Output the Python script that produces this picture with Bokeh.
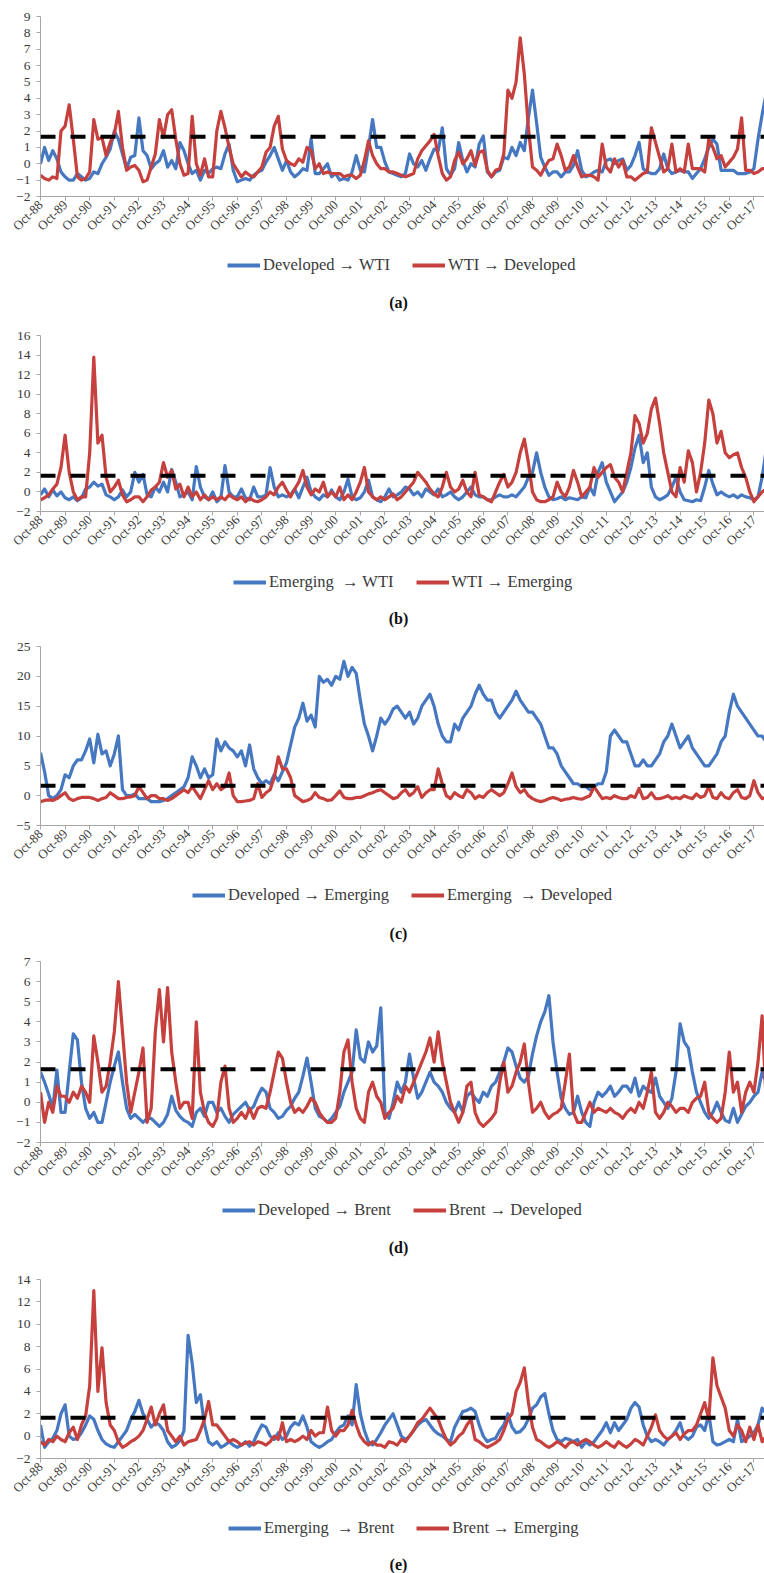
import math
import numpy as np
import pandas as pd
from bokeh.plotting import figure
from bokeh.layouts import column
from bokeh.models import FixedTicker, Span, Legend, LegendItem, Label
from bokeh.embed import file_html
from bokeh.resources import INLINE

# ---------------- data ----------------
DATES = pd.date_range("1988-10-01", periods=178, freq="2MS")
TICK_LABELS = ["Oct-88", "Oct-89", "Oct-90", "Oct-91", "Oct-92", "Oct-93", "Oct-94", "Oct-95",
               "Oct-96", "Oct-97", "Oct-98", "Oct-99", "Oct-00", "Oct-01", "Oct-02", "Oct-03",
               "Oct-04", "Oct-05", "Oct-06", "Oct-07", "Oct-08", "Oct-09", "Oct-10", "Oct-11",
               "Oct-12", "Oct-13", "Oct-14", "Oct-15", "Oct-16", "Oct-17"]
THRESHOLD = 1.645

A_BLUE = [0.0, 1.0, 0.2, 0.8, 0.3, -0.5, -0.8, -1.0, -1.0, -0.6, -0.8, -1.0,
          -0.9, -0.5, -0.6, 0.0, 0.4, 0.9, 2.0, 1.5, 0.6, -0.3, 0.4, 0.5,
          2.8, 0.8, 0.5, -0.3, 0.0, 0.2, 0.8, -0.2, 0.2, -0.3, 1.3, 0.8,
          0.0, -0.6, -0.4, -1.0, -0.4, -0.6, -0.3, -0.2, -0.3, 0.6, 1.2, -0.4,
          -1.1, -1.0, -0.9, -1.0, -0.7, -0.5, -0.4, 0.1, 0.5, 1.0, 0.3, -0.4,
          0.2, -0.5, -0.8, -0.6, -0.3, -0.4, 1.5, -0.6, -0.6, -0.3, 0.0, -0.8,
          -0.6, -1.0, -0.9, -1.0, -0.5, 0.5, -0.4, -0.5, 1.0, 2.7, 1.0, 1.0,
          0.1, -0.5, -0.6, -0.7, -0.8, -0.6, 0.6, 0.0, -0.2, 0.2, -0.4, 0.3,
          0.9, 0.8, 2.2, -0.3, -0.7, -0.3, 1.3, 0.2, -0.5, 0.0, -0.2, 1.2,
          1.7, -0.5, -0.8, -0.5, -0.4, 0.4, 0.3, 1.0, 0.5, 1.3, 0.8, 2.8,
          4.5, 2.5, 0.4, -0.2, -0.7, -0.5, -0.5, -0.8, -0.5, -0.5, -0.1, 0.8,
          -0.4, -0.8, -0.7, -0.5, -0.4, -0.5, 0.2, 0.3, 0.0, 0.2, 0.3, -0.4,
          -0.1, 0.5, 1.3, -0.3, -0.5, -0.6, -0.6, -0.3, 0.6, -0.3, -0.6, -0.5,
          -0.4, -0.5, -0.5, -0.9, -0.6, -0.3, 0.3, 1.0, 1.5, 1.2, -0.4, -0.4,
          -0.4, -0.4, -0.6, -0.6, -0.6, -0.5, -0.3, 1.5, 3.0, 4.3]
A_RED = [-0.7, -0.9, -1.0, -0.8, -0.9, 2.0, 2.3, 3.6, 1.5, -0.8, -1.0, -0.9,
         -0.5, 2.7, 1.5, 1.6, 0.5, 1.3, 1.8, 3.2, 1.0, -0.4, -0.2, -0.1,
         -0.4, -1.1, -1.0, -0.2, 0.6, 2.7, 1.6, 3.0, 3.3, 1.5, 0.0, -0.7,
         -0.6, 2.9, 0.0, -0.7, 0.3, -0.8, -0.8, 2.0, 3.2, 2.2, 1.0, 0.0,
         -0.4, -0.8, -0.5, -0.7, -0.8, -0.5, -0.2, 0.7, 1.0, 2.3, 2.9, 0.9,
         0.2, 0.0, -0.1, 0.3, 0.1, 1.0, 0.8, -0.3, 0.0, -0.6, -0.5, -0.6,
         -0.6, -0.6, -0.8, -0.7, -0.7, -0.9, -0.7, 0.2, 1.4, 0.5, 0.0, -0.3,
         -0.3, -0.5, -0.5, -0.6, -0.7, -0.8, -0.7, -0.6, 0.3, 0.8, 1.1, 1.4,
         1.8, 0.5, -0.6, -1.0, -0.8, 0.2, 0.7, 0.0, 0.3, 0.8, -0.1, 0.7,
         0.8, -0.4, -0.8, -0.4, -0.3, 0.6, 4.5, 4.0, 5.0, 7.7, 5.5, 2.2,
         -0.2, -0.4, -0.7, -0.2, 0.2, 0.3, 1.2, 0.5, -0.4, -0.2, 0.5, -0.2,
         -0.8, -0.7, -0.7, -0.8, -1.0, 1.2, -0.2, -0.5, 0.3, -0.2, 0.2, -0.8,
         -0.8, -1.0, -0.8, -0.6, -0.5, 2.2, 1.3, 0.4, -0.5, -0.3, 1.2, -0.5,
         -0.3, -0.5, 1.2, -0.3, -0.3, -0.3, -0.5, 1.5, 1.0, 0.3, 0.5, -0.2,
         0.1, 0.4, 0.9, 2.8, -0.4, -0.4, -0.6, -0.5, -0.3, -0.3]

B_BLUE = [-0.3, 0.3, -0.5, 0.2, -0.4, 0.0, -0.6, -0.8, -0.5, -0.9, -0.6, 0.3,
          0.5, 1.0, 0.6, 0.8, -0.3, -0.5, -0.8, -0.5, 0.2, -0.5, 0.0, 2.0,
          1.0, 1.8, -0.3, -0.5, 0.5, 0.0, 1.0, 0.0, 2.3, 1.0, -0.5, -0.3,
          0.0, -0.8, 2.6, 0.5, -0.5, -0.8, 0.0, -1.0, -0.6, 2.7, 0.0, -0.5,
          -0.5, 0.3, -0.6, -0.8, 0.5, -0.5, -0.5, -0.3, 2.5, 0.5, -0.5, -0.3,
          -0.5, -0.3, 0.3, -0.6, 0.5, 1.5, 0.0, -0.5, -0.8, -0.3, -0.5, 0.2,
          -0.5, -0.8, 0.0, 1.3, -0.5, -0.8, -0.6, 0.0, 1.2, -0.5, -0.8, -1.0,
          -0.5, 0.3, -0.5, -0.3, 0.0, 0.5, 0.3, -0.3, 0.0, -0.5, 0.3, 0.0,
          -0.3, 0.3, -0.5, -0.3, 0.0, -0.5, -0.8, -0.5, 0.0, 0.5, -0.3, -0.5,
          -0.5, -0.8, -0.8, -0.5, -0.3, -0.5, -0.5, -0.3, -0.5, 0.0, 0.5, 1.5,
          2.0, 4.0, 2.0, 0.5, -0.5, -0.8, -0.7, -0.5, -0.8, -0.6, -0.7, -0.8,
          -0.5, -0.6, 0.5, -0.3, 2.0, 3.0, 1.0, 0.0, -1.0, -0.5, 0.0, 1.0,
          2.5, 4.5, 5.8, 3.0, 4.0, 0.5, -0.5, -0.8, -0.6, -0.3, 0.5, 1.5,
          0.0, -0.8, -0.9, -1.0, -0.8, -0.9, 0.5, 2.2, 0.8, -0.3, 0.0, -0.3,
          -0.5, -0.3, -0.6, -0.3, -0.5, -0.6, -0.8, -0.5, 1.5, 4.3]
B_RED = [-0.8, -0.6, -0.3, 0.3, 0.8, 2.5, 5.8, 2.0, 0.0, -0.8, -0.5, -0.5,
         4.0, 13.8, 5.0, 5.8, 1.5, 0.0, 0.5, 1.2, -0.3, -1.0, -0.8, -0.5,
         -0.5, -1.0, -0.5, 0.2, 0.5, 1.0, 3.0, 1.5, 2.2, 0.3, 0.8, -0.5,
         0.5, -0.5, 0.0, -0.8, -0.3, -0.8, -0.5, -0.8, -0.5, -0.8, -0.3, -0.6,
         -0.8, -0.5, -1.0, -0.6, -0.9, -1.0, -0.8, -0.5, 0.0, -0.3, 0.5, 1.0,
         0.2, -0.5, 0.3, 1.0, 2.2, 0.5, -0.3, 0.3, 0.0, 1.0, -0.5, 0.0,
         -0.5, 0.5, -0.8, -0.3, -0.8, 0.0, 1.0, 2.5, 0.0, -0.5, -0.8, -0.5,
         -0.8, -0.5, -0.2, -0.8, -0.5, 0.0, 0.5, 1.0, 2.0, 1.5, 1.0, 0.3,
         -0.2, -0.5, 0.5, 2.0, 0.5, 0.0, 0.3, 1.2, 0.0, -0.5, 2.0, -0.3,
         -0.5, -0.8, -1.0, 0.0, 1.0, 1.8, 0.5, 1.0, 2.0, 4.0, 5.4, 3.0,
         0.0, -0.8, -1.0, -1.0, -0.8, -0.5, 1.0, 0.0, -0.5, 0.5, 2.2, 1.0,
         -0.5, 0.0, 0.5, 2.5, 1.5, 2.0, 2.5, 2.8, 1.5, 1.0, 0.0, 2.0,
         4.0, 7.8, 7.0, 5.0, 6.0, 8.5, 9.6, 7.0, 4.0, 2.0, 0.0, -0.5,
         2.5, 1.0, 4.2, 3.0, 0.0, 2.0, 5.0, 9.4, 8.0, 5.0, 6.2, 4.0,
         3.5, 3.8, 4.0, 2.5, 1.5, 0.0, -1.0, -0.5, 0.0, 0.3]

C_BLUE = [7.2, 4.0, 0.0, -0.5, 0.0, 1.0, 3.5, 3.0, 5.0, 6.0, 6.0, 7.5,
          9.5, 5.5, 10.3, 7.0, 7.5, 5.0, 7.0, 10.0, 1.0, 0.0, 0.0, 0.3,
          -0.5, -0.5, -0.5, -1.0, -1.0, -1.0, -0.8, -0.5, 0.0, 0.5, 1.0, 1.5,
          3.0, 6.5, 5.0, 3.0, 4.5, 3.0, 3.5, 9.5, 7.5, 9.0, 8.0, 7.5,
          6.5, 7.5, 5.0, 8.5, 4.5, 3.0, 2.0, 2.5, 2.0, 3.5, 2.5, 4.0,
          5.5, 8.5, 11.5, 13.0, 15.5, 12.5, 13.5, 11.5, 20.0, 19.0, 19.5, 18.5,
          20.0, 19.5, 22.5, 20.0, 21.5, 20.5, 16.0, 12.0, 10.0, 7.5, 10.0, 13.0,
          12.0, 13.0, 14.5, 15.0, 14.0, 13.0, 14.0, 12.0, 13.0, 15.0, 16.0, 17.0,
          15.0, 12.0, 10.0, 9.0, 9.0, 12.0, 11.0, 13.0, 14.0, 15.0, 17.0, 18.5,
          17.0, 16.0, 16.0, 14.0, 13.0, 14.0, 15.0, 16.0, 17.5, 16.0, 15.0, 14.0,
          14.0, 13.0, 12.0, 10.0, 8.0, 8.0, 7.0, 5.0, 4.0, 3.0, 2.0, 2.0,
          1.5, 1.5, 1.0, 1.5, 2.0, 2.0, 4.0, 10.0, 11.0, 10.0, 9.0, 9.0,
          7.0, 5.0, 5.0, 6.0, 5.0, 5.0, 6.0, 7.0, 9.0, 10.0, 12.0, 10.0,
          8.0, 9.0, 10.0, 8.0, 7.0, 6.0, 5.0, 5.0, 6.0, 7.0, 9.0, 10.0,
          14.0, 17.0, 15.0, 14.0, 13.0, 12.0, 11.0, 10.0, 10.0, 9.0]
C_RED = [-1.0, -0.8, -0.7, -0.8, -0.5, 0.0, 0.5, -0.5, -0.8, -0.5, -0.3, -0.3,
         -0.3, -0.5, -0.8, -0.5, -0.3, 0.5, 0.0, -0.5, -0.5, -0.3, -0.2, 0.0,
         1.5, 0.5, -0.5, 0.0, 0.0, -0.5, -0.5, -0.8, -0.5, 0.0, 0.5, 1.0,
         0.5, 1.5, 0.5, -0.5, 1.0, 2.5, 1.0, 2.0, 1.0, 1.5, 3.8, 0.0,
         -1.0, -1.0, -0.9, -0.8, -0.5, 2.0, -0.3, 0.5, 1.0, 3.0, 6.5, 4.5,
         4.5, 3.0, 0.0, -0.5, -1.0, -0.8, -0.5, 0.5, -0.3, -0.5, -0.8, -0.7,
         0.0, 0.8, -0.3, -0.5, -0.5, -0.3, -0.3, 0.0, 0.3, 0.5, 0.8, 1.0,
         0.5, 0.0, -0.5, -0.3, 0.5, 1.0, 0.0, 0.5, 1.5, -0.3, 0.5, 1.0,
         1.0, 4.5, 2.0, 0.0, -0.5, 0.5, 0.0, -0.3, 1.0, 0.5, -0.5, 0.0,
         -0.3, 0.5, 1.0, 0.5, 0.0, 0.5, 2.0, 3.8, 1.5, 0.5, 1.0, 0.0,
         -0.5, -0.8, -1.0, -0.8, -0.5, -0.3, -0.5, -0.8, -0.6, -0.5, -0.3, -0.5,
         -0.6, -0.3, 0.0, 1.5, 0.5, -0.5, -0.3, -0.5, 0.0, -0.3, -0.5, -0.5,
         0.0, -0.3, 1.2, -0.5, -0.3, 0.5, -0.5, -0.5, -0.3, 0.0, -0.5, -0.3,
         -0.5, 0.0, -0.3, -0.5, 0.3, -0.3, 0.0, 1.5, -0.3, -0.5, 0.5, -0.3,
         -0.5, 0.5, 1.0, -0.3, -0.5, 0.0, 2.5, 0.5, -0.5, -0.3]

D_BLUE = [1.5, 1.0, 0.4, -0.3, 1.6, -0.5, -0.5, 1.5, 3.4, 3.1, 1.0, -0.3,
          -0.8, -0.5, -1.0, -1.0, 0.0, 1.0, 1.8, 2.5, 1.0, -0.3, -0.8, -0.6,
          -0.8, -1.0, -0.8, -0.8, -1.0, -1.2, -1.0, -0.6, 0.3, -0.4, -0.7, -0.9,
          -1.0, -1.2, -0.5, -0.3, -0.7, 0.0, 0.0, -0.5, -0.3, -0.7, -1.0, -0.6,
          -0.4, -0.2, 0.0, -0.4, -0.2, 0.3, 0.7, 0.5, -0.3, -0.5, -0.8, -0.7,
          -0.4, -0.2, 0.2, 0.5, 1.3, 2.2, 1.0, -0.3, -0.7, -0.8, -1.0, -0.8,
          -0.5, -0.2, 0.5, 1.0, 1.5, 3.6, 2.2, 2.0, 3.0, 2.5, 2.8, 4.7,
          -0.5, -0.8, 0.0, 1.0, 0.5, 1.0, 2.4, 1.2, 0.2, 0.5, 1.0, 1.5,
          1.0, 0.8, 0.5, 0.0, -0.3, -0.5, 0.0, -0.5, 0.3, 0.5, 0.2, 0.0,
          0.5, 0.3, 0.8, 1.0, 1.5, 2.0, 2.7, 2.5, 1.8, 1.2, 1.0, 1.3,
          2.4, 3.3, 4.0, 4.5, 5.3, 3.0, 1.5, 0.2, -0.3, -0.6, -0.5, 0.3,
          -0.5, -1.0, -1.2, 0.0, 0.5, 0.3, 0.5, 0.8, 0.3, 0.5, 0.8, 0.8,
          0.5, 1.2, 0.3, 0.8, 0.6, 0.5, 1.2, 0.3, 0.0, -0.3, 0.2, 1.5,
          3.9, 3.0, 2.7, 1.5, 0.5, 0.0, -0.5, -0.8, -0.5, 0.0, -0.5, -0.9,
          -1.0, -0.3, -1.0, -0.6, -0.2, 0.0, 0.3, 0.5, 1.5, 1.0]
D_RED = [0.5, -1.0, 0.0, -0.5, 0.8, 0.3, 0.3, 0.0, 0.5, 0.2, 0.8, 0.5,
         0.0, 3.3, 2.0, 0.5, 0.8, 2.0, 3.5, 6.0, 3.5, 1.0, -0.5, 0.5,
         1.5, 2.7, -1.0, -0.3, 3.5, 5.6, 3.0, 5.7, 2.5, 1.0, -0.3, 0.0,
         0.0, -0.8, 4.0, 0.5, -0.5, -1.0, -1.2, -0.8, 1.0, 1.8, -0.3, -1.0,
         -0.8, -0.5, -0.8, -0.3, -0.8, -0.3, -0.2, -0.3, 0.5, 1.5, 2.5, 2.2,
         1.0, 0.0, -0.5, -0.3, -0.5, -0.2, 0.2, 0.0, -0.5, -0.8, -1.0, -1.0,
         -0.8, 0.5, 2.5, 3.1, 1.0, -0.3, -0.8, -1.0, 0.5, 1.0, 0.3, 0.0,
         -0.8, -0.5, -0.3, 0.3, 0.0, 0.8, 0.5, 1.0, 1.5, 2.0, 2.5, 3.2,
         2.0, 3.5, 2.0, 1.0, 0.0, -0.5, -1.0, -0.5, 0.8, 1.0, -0.5, -1.0,
         -1.2, -1.0, -0.8, -0.5, 1.0, 2.0, 0.5, 0.8, 1.5, 2.0, 2.9, 1.0,
         -0.5, -0.3, 0.0, -0.5, -0.8, -0.6, -0.5, -0.3, 1.0, 2.4, -0.5, -1.0,
         -1.0, -0.5, 0.0, -0.5, -0.3, -0.4, -0.5, -0.3, -0.5, -0.6, -0.8, -0.5,
         -0.3, -0.5, 0.0, -0.3, 0.5, 1.5, -0.5, -0.8, -0.5, 0.0, -0.2, -0.5,
         -0.3, -0.3, -0.5, 0.0, 0.2, 0.3, 1.0, -0.5, -0.8, -1.0, -0.8, 0.5,
         2.5, 0.5, 1.0, -0.5, 0.5, 1.0, 0.5, 2.0, 4.3, 0.0]

E_BLUE = [1.0, -1.0, -0.5, -0.2, 0.5, 2.0, 2.8, 0.0, -0.3, -0.2, 0.3, 1.0,
          1.8, 1.5, 0.5, -0.3, -0.7, -0.9, -1.0, -0.5, 0.0, 0.5, 1.5, 2.2,
          3.2, 2.0, 1.5, 0.8, 1.2, 1.0, 0.5, -0.5, -1.0, -0.8, -0.4, 0.5,
          9.0, 6.5, 3.0, 3.7, 1.0, -0.5, -0.8, -0.5, -1.0, -0.8, -0.5, -0.8,
          -1.0, -0.8, -0.5, -0.9, -0.5, 0.3, 1.0, 0.8, 0.0, -0.3, 0.3, -0.3,
          0.0, 0.8, 1.2, 1.0, 1.8, 0.8, -0.5, -0.8, -1.0, -0.8, -0.5, -0.3,
          0.3, 0.8, 1.0, 1.8, 1.0, 4.6, 2.0, 0.5, -0.5, -0.8, -0.3, 0.3,
          1.0, 1.5, 2.0, 1.0, 0.0, -0.3, 0.0, 0.5, 1.0, 1.3, 1.5, 1.0,
          0.5, 0.2, 0.0, -0.3, -0.5, 0.8, 1.5, 2.2, 2.3, 2.5, 2.2, 1.0,
          0.0, -0.5, -0.3, -0.2, 0.5, 1.0, 2.0, 0.8, 0.3, 0.4, 0.8, 1.5,
          2.5, 2.8, 3.5, 3.8, 2.0, 0.5, -0.3, -0.5, -0.2, -0.3, -0.5, -0.3,
          -1.0, -0.5, -0.8, -0.5, 0.0, 0.5, 1.2, 0.3, 1.2, 0.5, 1.0, 1.5,
          2.5, 3.0, 2.6, 1.0, 0.0, -0.5, -0.3, -0.5, -0.8, -0.3, 0.0, 0.5,
          1.2, 0.0, -0.3, 0.0, 0.8, 1.0, 0.5, 2.0, -0.5, -0.8, -0.7, -0.5,
          -0.3, -0.5, 1.5, -0.5, -0.3, 0.0, 0.3, 1.0, 2.5, 2.0]
E_RED = [-0.5, -0.8, -0.3, -0.5, 0.0, -0.3, -0.5, 0.3, 0.8, -0.3, 1.0, 1.8,
         4.5, 13.0, 4.0, 7.9, 3.0, 1.0, 0.5, -0.5, -1.0, -0.8, -0.5, -0.3,
         0.0, 0.5, 1.5, 2.6, 1.0, 2.0, 2.8, 0.5, 0.0, -0.5, 0.0, -0.8,
         -0.5, -0.4, -0.3, 0.5, 1.5, 3.1, 1.0, 1.0, 0.5, 0.0, -0.5, -0.3,
         -0.5, -0.8, -0.6, -0.5, -0.8, -0.5, -0.6, -0.8, -0.5, 0.0, -0.3, 1.2,
         -0.5, -0.3, -0.5, -0.3, 0.0, -0.3, 0.5, 0.0, 0.3, 0.3, 2.6, 0.5,
         0.0, 0.5, 0.5, 1.0, 2.3, 1.0, 0.0, -0.5, -0.8, -0.5, -0.8, -0.8,
         -1.0, -0.5, -0.6, -0.8, -0.3, -0.5, 0.0, 0.5, 1.2, 1.5, 2.0, 2.5,
         2.0, 1.5, 0.5, -0.3, -0.8, -0.5, 0.0, 0.3, 1.0, 1.5, -0.3, -0.5,
         -0.8, -1.0, -0.8, -0.6, -0.3, 0.5, 1.5, 2.0, 4.0, 4.8, 6.1, 3.0,
         0.8, -0.3, -0.5, -0.8, -1.0, -0.8, -0.5, -0.7, -1.0, -0.6, -0.5, -0.8,
         -0.5, -0.3, -0.5, -0.8, -1.0, -0.8, -0.5, -0.8, -1.0, -0.5, -0.8, -1.0,
         -0.7, -0.3, -0.5, -0.8, 0.0, 0.8, 1.9, 0.5, 0.0, -0.3, 0.0, 0.3,
         -0.3, 0.2, 0.5, 0.5, 1.0, 2.0, 3.0, 1.5, 7.0, 4.5, 3.5, 2.5,
         0.5, 0.0, 1.0, 0.5, -0.5, 0.8, -0.3, 1.0, -0.5, 0.0]

Y_TICKS_A = [-2, -1, 0, 1, 2, 3, 4, 5, 6, 7, 8, 9]
Y_TICKS_B = [-2, 0, 2, 4, 6, 8, 10, 12, 14, 16]
Y_TICKS_C = [-5, 0, 5, 10, 15, 20, 25]
Y_TICKS_D = [-2, -1, 0, 1, 2, 3, 4, 5, 6, 7]
Y_TICKS_E = [-2, 0, 2, 4, 6, 8, 10, 12, 14]

LEGEND_A = ["Developed \u2192 WTI", "WTI \u2192 Developed"]
LEGEND_B = ["Emerging  \u2192 WTI", "WTI \u2192 Emerging"]
LEGEND_C = ["Developed \u2192 Emerging", "Emerging  \u2192 Developed"]
LEGEND_D = ["Developed \u2192 Brent", "Brent \u2192 Developed"]
LEGEND_E = ["Emerging  \u2192 Brent", "Brent \u2192 Emerging"]
CAPTIONS = ["(a)", "(b)", "(c)", "(d)", "(e)"]

# ---------------- styling / layout ----------------
BLUE = "#4678c2"
RED = "#c6413e"
AXIS_GRAY = "#a6a6a6"
TEXT = "#3a3a3a"
SERIF = "Liberation Serif"
W = 764
LEFT = 40
LINE_W = 3.2
MONTHS = np.asarray((DATES.year - 1988) * 12 + DATES.month - 10, dtype=float)
X_END = (W - LEFT) / 24.6 * 12.0   # months visible in the frame

panels = [
    # blue, red, yticks, legend, caption,
    # border top, frame height, footer height, legend left (page x), legend centre, caption centre (from footer top)
    (A_BLUE, A_RED, Y_TICKS_A, LEGEND_A, CAPTIONS[0], 16, 180, 83, 227, 21, 60),
    (B_BLUE, B_RED, Y_TICKS_B, LEGEND_B, CAPTIONS[1], 10, 176, 80, 233, 23, 61),
    (C_BLUE, C_RED, Y_TICKS_C, LEGEND_C, CAPTIONS[2], 9, 179, 80, 192, 22, 62),
    (D_BLUE, D_RED, Y_TICKS_D, LEGEND_D, CAPTIONS[3], 10, 181, 81, 222, 20, 59),
    (E_BLUE, E_RED, Y_TICKS_E, LEGEND_E, CAPTIONS[4], 10, 179, 69, 228, 22, 60),
]
BOTTOM = 46

figs = []
for (blue, red, yt, leg, cap, bt, fh, foot_h, lx, lc, cc) in panels:
    p = figure(width=W, height=bt + fh + BOTTOM, x_range=(0, X_END), y_range=(yt[0], yt[-1]),
               output_backend="svg", toolbar_location=None,
               min_border_left=LEFT, min_border_right=0,
               min_border_top=bt, min_border_bottom=BOTTOM)
    p.title.visible = False
    p.outline_line_color = None
    p.xgrid.visible = False
    p.ygrid.visible = False

    p.line(MONTHS, blue, line_color=BLUE, line_width=LINE_W, line_join="round")
    p.line(MONTHS, red, line_color=RED, line_width=LINE_W, line_join="round")

    p.add_layout(Span(location=THRESHOLD, dimension="width", line_color="black",
                      line_width=4, line_dash="15 15"))

    xa = p.xaxis[0]
    xa.ticker = FixedTicker(ticks=[12 * j for j in range(len(TICK_LABELS))])
    xa.major_label_overrides = {12 * j: TICK_LABELS[j] for j in range(len(TICK_LABELS))}
    xa.major_label_orientation = math.pi / 4
    xa.major_label_text_font = SERIF
    xa.major_label_text_font_size = "13px"
    xa.major_label_text_color = TEXT
    xa.axis_line_color = AXIS_GRAY
    xa.major_tick_line_color = AXIS_GRAY
    xa.major_tick_in = 0
    xa.major_tick_out = 4
    xa.minor_tick_line_color = None
    xa.major_label_standoff = 2

    ya = p.yaxis[0]
    ya.ticker = FixedTicker(ticks=yt)
    ya.major_label_text_font = SERIF
    ya.major_label_text_font_size = "13.5px"
    ya.major_label_text_color = TEXT
    ya.axis_line_color = AXIS_GRAY
    ya.major_tick_line_color = AXIS_GRAY
    ya.major_tick_in = 0
    ya.major_tick_out = 4
    ya.minor_tick_line_color = None
    ya.major_label_standoff = 6
    figs.append(p)

    # footer: legend and caption (frame spans page x from LEFT to W)
    f = figure(width=W, height=foot_h, x_range=(LEFT, W), y_range=(0, foot_h),
               output_backend="svg", toolbar_location=None,
               x_axis_location=None, y_axis_location=None,
               min_border_left=LEFT, min_border_right=0,
               min_border_top=0, min_border_bottom=0)
    f.title.visible = False
    f.outline_line_color = None
    f.xgrid.visible = False
    f.ygrid.visible = False
    lb = f.line(x=[np.nan], y=[np.nan], line_color=BLUE, line_width=4)
    lr = f.line(x=[np.nan], y=[np.nan], line_color=RED, line_width=4)
    legend = Legend(items=[LegendItem(label=leg[0], renderers=[lb]),
                           LegendItem(label=leg[1], renderers=[lr])],
                    orientation="horizontal", location=(lx - LEFT, foot_h - lc - 12),
                    padding=0, margin=0, spacing=22, label_standoff=3,
                    glyph_width=33, glyph_height=20, label_height=20,
                    border_line_color=None, background_fill_alpha=0,
                    label_text_font=SERIF, label_text_font_size="16.5px",
                    label_text_color=TEXT)
    f.add_layout(legend)
    f.add_layout(Label(x=398, y=foot_h - cc, text=cap,
                       text_align="center", text_baseline="middle",
                       text_font=SERIF, text_font_size="16px",
                       text_font_style="bold", text_color="#111111"))
    figs.append(f)

layout = column(*figs, spacing=0)
open("out.html", "w").write(file_html(layout, INLINE))
